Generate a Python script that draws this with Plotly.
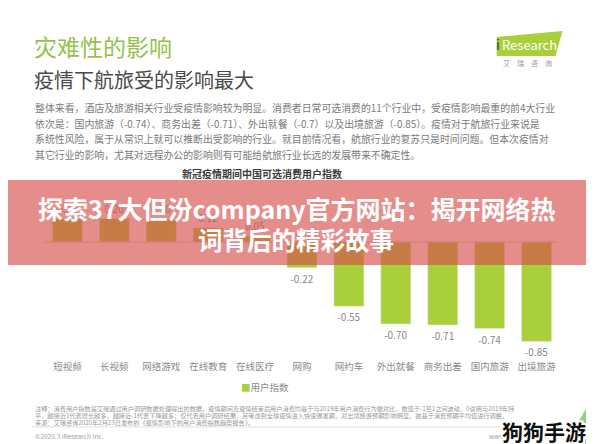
import plotly.graph_objects as go

categories = ["短视频", "长视频", "网络游戏", "在线教育", "在线医疗", "网购", "网约车", "外出就餐", "商务出差", "国内旅游", "出境旅游"]
values = [0.20, 0.20, 0.20, 0.12, 0.05, -0.22, -0.55, -0.70, -0.71, -0.74, -0.85]
series_name = "用户指数"

title_text = "灾难性的影响"
subtitle_text = "疫情下航旅受的影响最大"
paragraph_lines = [
    "整体来看，酒店及旅游相关行业受疫情影响较为明显。消费者日常可选消费的11个行业中，受疫情影响最重的前4大行业",
    "依次是：国内旅游（-0.74）、商务出差（-0.71）、外出就餐（-0.7）以及出境旅游（-0.85）。疫情对于航旅行业来说是",
    "系统性风险，属于从常识上就可以推断出受影响的行业。就目前情况看，航旅行业的复苏只是时间问题。但本次疫情对",
    "其它行业的影响，尤其对远程办公的影响则有可能给航旅行业长远的发展带来不确定性。",
]
chart_title = "新冠疫情期间中国可选消费用户指数"
banner_lines = ["探索37大但汾company官方网站：揭开网络热", "词背后的精彩故事"]
note_lines = [
    "注释：消费用户指数是艾瑞通过用户调研数据处理得出的数据，疫情期间及疫情结束后用户消费均基于与2019年用户消费行为做对比，数值于-1至1之间波动，0说明与2019年持",
    "平，越接近1代表增长越多，越接近-1代表下降越多；仅代表用户调研结果，另考虑到全球疫情进入快速爆发期，对出境旅游预期影响明显，故基于消费预期平均值进行调整。",
    "来源：艾瑞咨询2020年2月23日发布的《疫情影响下的用户消费指数趋势报告》。",
]
copyright_text = "©2020.3 iResearch Inc."
site_text = "www.iresearch.com.cn"
watermark_text = "狗狗手游"

FONT = "Noto Sans CJK SC, Noto Sans, sans-serif"
W, H = 594, 444
OFF = 8  # page body margin offset
# plot area in screenshot coordinates
SL, SR, ST, SB = 43.5, 560.5, 201, 359
L, R, T, B = SL - OFF, SR - OFF, ST - OFF, SB - OFF
PW, PH = R - L, B - T


def px(x):
    return (x - OFF - L) / PW


def py(y):
    return (B - (y - OFF)) / PH


fig = go.Figure()
fig.add_trace(go.Bar(
    x=categories, y=values, name=series_name,
    marker=dict(color="#a9cf3a"), width=0.64,
    text=[f"{v:.2f}" for v in values], textposition="outside",
    textfont=dict(size=10, color="#8a8a8a", family=FONT),
    cliponaxis=False, showlegend=False,
))

ann = []


def add_text(x, y, text, size, color, xanchor="left", bold=False, shadow=None, family=FONT):
    f = dict(size=size, color=color, family=family)
    if shadow:
        f["shadow"] = shadow
    ann.append(dict(x=px(x), y=py(y), xref="paper", yref="paper", text=(f"<b>{text}</b>" if bold else text),
                    showarrow=False, xanchor=xanchor, yanchor="middle", font=f))


add_text(31, 46, title_text, 23, "#93c24b")
add_text(31, 80, subtitle_text, 20, "#4a4a4a")
for i, line in enumerate(paragraph_lines):
    add_text(32, 108 + i * 15.5, line, 9.9, "#7a7a7a")
add_text(262, 173, chart_title, 10, "#3a3a3a", xanchor="center", bold=True)
add_text(297, 208, banner_lines[0], 25, "#ffffff", xanchor="center", bold=True)
add_text(296, 239, banner_lines[1], 24.5, "#ffffff", xanchor="center", bold=True)
for i, line in enumerate(note_lines):
    add_text(32, 408 + i * 7.3, line, 6.2, "#9a9a9a")
add_text(32, 436, copyright_text, 6.5, "#a0a0a0")
add_text(560, 436, site_text, 6.5, "#a0a0a0", xanchor="right")
add_text(265, 387, f"<span style='color:#a9cf3a'>■</span>{series_name}", 9.5, "#8a8a8a", xanchor="center")
# logo texts
add_text(500, 44, "Research", 13, "#ffffff")
add_text(494, 44, "i", 14, "#2f3d5c")
add_text(528, 63, "艾　瑞　咨　询", 7, "#9a9a9a", xanchor="center")
sh = ",".join(f"{dx}px {dy}px 0 #ffffff" for dx in (-2, 0, 2) for dy in (-2, 0, 2) if dx or dy)
add_text(544, 431, watermark_text, 21, "#111111", xanchor="center", bold=True, shadow=sh)

shapes = [
    # axis baseline
    dict(type="line", xref="paper", yref="y", x0=px(44), x1=px(557), y0=0, y1=0,
         line=dict(color="#c8c8c8", width=1), layer="above"),
    # footer divider
    dict(type="line", xref="paper", yref="paper", x0=px(31), x1=px(560), y0=py(427), y1=py(427),
         line=dict(color="#d8d8d8", width=0.8)),
    # logo parallelogram
    dict(type="path", xref="paper", yref="paper",
         path=f"M {px(497)} {py(37)} L {px(563)} {py(31)} L {px(556)} {py(56)} L {px(497)} {py(56)} Z",
         fillcolor="#a9cf3a", line=dict(width=0), layer="below"),
    # corner decoration
    dict(type="path", xref="paper", yref="paper",
         path=f"M {px(594)} {py(396)} L {px(594)} {py(444)} L {px(566)} {py(444)} Z",
         fillcolor="#8fd08a", line=dict(width=0), layer="above"),
    dict(type="path", xref="paper", yref="paper",
         path=f"M {px(594)} {py(418)} L {px(594)} {py(444)} L {px(580)} {py(444)} Z",
         fillcolor="#5bb6d6", line=dict(width=0), layer="above"),
    # banner overlay
    dict(type="rect", xref="paper", yref="paper", x0=px(-5), x1=px(600), y0=py(180), y1=py(265),
         fillcolor="rgba(215,80,75,0.65)", line=dict(width=0), layer="above"),
]

fig.update_layout(
    width=W, height=H,
    margin=dict(l=L, r=W - R, t=T, b=H - B, pad=0),
    paper_bgcolor="#ffffff", plot_bgcolor="#ffffff",
    font=dict(family=FONT, color="#8a8a8a"),
    xaxis=dict(showgrid=False, showline=False, zeroline=False, ticks="",
               tickfont=dict(size=9.5, color="#8a8a8a", family=FONT)),
    yaxis=dict(range=[-1.0, 0.35], visible=False, showgrid=False, zeroline=False),
    showlegend=False,
    bargap=0.36,
    annotations=ann, shapes=shapes,
)

fig.write_html("out.html")
